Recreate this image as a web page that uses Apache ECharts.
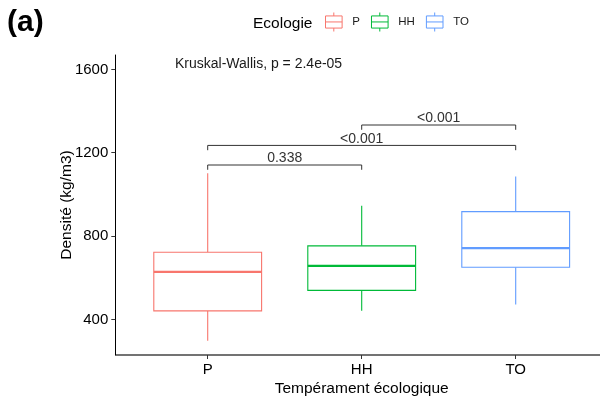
<!DOCTYPE html>
<html><head><meta charset="utf-8">
<script src="https://cdn.jsdelivr.net/npm/echarts@6/dist/echarts.min.js"></script>
<style>html,body{margin:0;padding:0;background:#fff}#c{width:600px;height:405px}</style>
</head><body><div id="c"></div>
<script>
const categories = ['P', 'HH', 'TO'];
const colors = ['#F8766D', '#00BA38', '#619CFF'];
const boxMin = [297, 441, 472];
const boxQ1 = [441, 539, 650];
const boxMedian = [628, 657, 742];
const boxQ3 = [722, 753, 917];
const boxMax = [1101, 945, 1086];
const yTicks = [400, 800, 1200, 1600];
const yMin = 229, yMax = 1669;
const bracketFrom = [0, 0, 1];
const bracketTo = [1, 2, 2];
const bracketY = [1141, 1235, 1333];
const bracketTipY = [1118, 1212, 1310];
const bracketLabels = ['0.338', '<0.001', '<0.001'];
const testLabel = 'Kruskal-Wallis, p = 2.4e-05';
const panelLabel = '(a)';
const legendTitle = 'Ecologie';
const xTitle = 'Tempérament écologique';
const yTitle = 'Densité (kg/m3)';

const FONT = "'Liberation Sans', Arial, sans-serif";
const GRID = {left: 130.7, right: 7.3, top: 55, bottom: 50};
const Y_OFFSET = 15.4;
const H = 405;

const chart = echarts.init(document.getElementById('c'), null, {renderer: 'canvas'});

function renderBox(params, api) {
  const x = api.value(0);
  const pMin = api.coord([x, api.value(1)]);
  const pQ1 = api.coord([x, api.value(2)]);
  const pMed = api.coord([x, api.value(3)]);
  const pQ3 = api.coord([x, api.value(4)]);
  const pMax = api.coord([x, api.value(5)]);
  const w = api.size([1, 0])[0] * 0.7;
  const color = api.visual('color');
  const cx = pMed[0];
  return {
    type: 'group',
    children: [
      {type: 'line', shape: {x1: cx, y1: pMin[1], x2: cx, y2: pQ1[1]}, style: {stroke: color, lineWidth: 1.1}},
      {type: 'line', shape: {x1: cx, y1: pQ3[1], x2: cx, y2: pMax[1]}, style: {stroke: color, lineWidth: 1.1}},
      {type: 'rect', shape: {x: cx - w / 2, y: pQ3[1], width: w, height: pQ1[1] - pQ3[1]}, style: {fill: '#fff', stroke: color, lineWidth: 1.1}},
      {type: 'line', shape: {x1: cx - w / 2, y1: pMed[1], x2: cx + w / 2, y2: pMed[1]}, style: {stroke: color, lineWidth: 2.3}}
    ]
  };
}

function renderBracket(params, api) {
  const a = api.coord([api.value(0), api.value(2)]);
  const b = api.coord([api.value(1), api.value(2)]);
  const t = api.coord([api.value(0), api.value(3)]);
  return {
    type: 'group',
    children: [
      {type: 'polyline', shape: {points: [[a[0], t[1]], [a[0], a[1]], [b[0], b[1]], [b[0], t[1]]]},
        style: {stroke: '#333', lineWidth: 1, fill: null}},
      {type: 'text', x: (a[0] + b[0]) / 2, y: a[1] + 0.5,
        style: {text: bracketLabels[params.dataIndex], fontSize: 14, fontFamily: FONT, fill: '#333', align: 'center', verticalAlign: 'bottom'}}
    ]
  };
}

const boxSeries = categories.map((name, i) => ({
  type: 'custom',
  name: name,
  color: colors[i],
  itemStyle: {color: colors[i]},
  renderItem: renderBox,
  encode: {x: 0, y: [1, 2, 3, 4, 5]},
  data: [[i, boxMin[i], boxQ1[i], boxMedian[i], boxQ3[i], boxMax[i]]],
  silent: true
}));

const bracketSeries = {
  type: 'custom',
  name: 'brackets',
  renderItem: renderBracket,
  encode: {x: [0, 1], y: [2, 3]},
  data: bracketFrom.map((f, i) => [f, bracketTo[i], bracketY[i], bracketTipY[i]]),
  silent: true
};

const keyIcon = 'path://M0,3.3L16,3.3L16,15L0,15Z M0,9.1L16,9.1 M8,0L8,3.3 M8,15L8,18.3';

const option = {
  animation: false,
  backgroundColor: '#fff',
  textStyle: {fontFamily: FONT},
  grid: GRID,
  legend: {
    left: 320, top: 7,
    itemWidth: 17, itemHeight: 19, itemGap: 11,
    selectedMode: false,
    textStyle: {fontSize: 11.5, color: '#1a1a1a', fontFamily: FONT, padding: [0, 0, 0, 5]},
    data: categories.map((name, i) => ({
      name: name, icon: keyIcon,
      itemStyle: {color: '#fff', borderColor: colors[i], borderWidth: 1}
    }))
  },
  xAxis: {
    type: 'category',
    data: categories,
    boundaryGap: true,
    axisLine: {show: false},
    axisTick: {show: true, alignWithLabel: true, length: 4, lineStyle: {color: '#333'}},
    axisLabel: {fontSize: 15, color: '#000', margin: 7, fontFamily: FONT},
    splitLine: {show: false},
    name: xTitle,
    nameLocation: 'middle',
    nameGap: 26,
    nameMoveOverlap: false,
    nameTextStyle: {fontSize: 15.5, color: '#000', fontFamily: FONT}
  },
  yAxis: {
    type: 'value',
    min: yMin, max: yMax,
    offset: Y_OFFSET,
    axisLine: {show: true, lineStyle: {color: '#000', width: 1}},
    axisTick: {show: true, length: 4, lineStyle: {color: '#333'}, customValues: yTicks},
    axisLabel: {fontSize: 15, color: '#000', margin: 7, fontFamily: FONT, customValues: yTicks,
      formatter: v => String(v)},
    splitLine: {show: false},
    name: yTitle,
    nameLocation: 'middle',
    nameRotate: 90,
    nameGap: 41,
    nameMoveOverlap: false,
    nameTextStyle: {fontSize: 15.5, color: '#000', fontFamily: FONT}
  },
  graphic: [
    {type: 'line', silent: true,
      shape: {x1: GRID.left - Y_OFFSET, y1: H - GRID.bottom, x2: 600, y2: H - GRID.bottom},
      style: {stroke: '#444', lineWidth: 1.4}},
    {type: 'text', left: 7, top: 8, silent: true,
      style: {text: panelLabel, fontSize: 30, fontWeight: 'bold', fontFamily: FONT, fill: '#000'}},
    {type: 'text', left: 253, top: 16, silent: true,
      style: {text: legendTitle, fontSize: 15.5, fontFamily: FONT, fill: '#000'}},
    {type: 'text', left: 175, top: 57, silent: true,
      style: {text: testLabel, fontSize: 14, fontFamily: FONT, fill: '#1a1a1a'}}
  ],
  series: boxSeries.concat([bracketSeries])
};
chart.setOption(option);
</script>
</body></html>
